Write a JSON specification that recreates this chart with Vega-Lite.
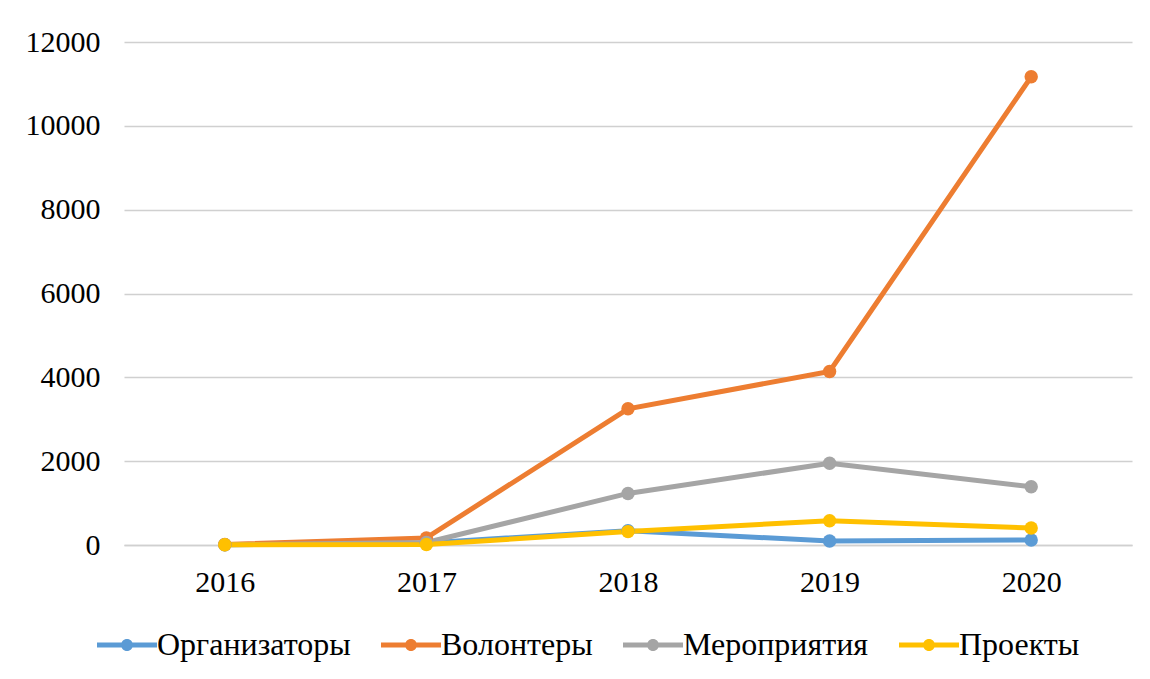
{
  "$schema": "https://vega.github.io/schema/vega-lite/v6.json",
  "width": 1008,
  "height": 503,
  "autosize": {"type": "none"},
  "padding": {"left": 124, "top": 42, "right": 18, "bottom": 134},
  "background": "white",
  "config": {
    "font": "Liberation Serif",
    "view": {"stroke": null},
    "axis": {"labelFont": "Liberation Serif", "labelColor": "#000000", "labelFontSize": 30, "title": null}
  },
  "data": {
    "values": [
      {"year": "2016", "series": "Организаторы", "value": 5},
      {"year": "2017", "series": "Организаторы", "value": 50},
      {"year": "2018", "series": "Организаторы", "value": 340},
      {"year": "2019", "series": "Организаторы", "value": 95},
      {"year": "2020", "series": "Организаторы", "value": 120},
      {"year": "2016", "series": "Волонтеры", "value": 10},
      {"year": "2017", "series": "Волонтеры", "value": 170},
      {"year": "2018", "series": "Волонтеры", "value": 3250},
      {"year": "2019", "series": "Волонтеры", "value": 4140},
      {"year": "2020", "series": "Волонтеры", "value": 11170},
      {"year": "2016", "series": "Мероприятия", "value": 5},
      {"year": "2017", "series": "Мероприятия", "value": 60},
      {"year": "2018", "series": "Мероприятия", "value": 1230},
      {"year": "2019", "series": "Мероприятия", "value": 1950},
      {"year": "2020", "series": "Мероприятия", "value": 1390},
      {"year": "2016", "series": "Проекты", "value": 5},
      {"year": "2017", "series": "Проекты", "value": 10},
      {"year": "2018", "series": "Проекты", "value": 320},
      {"year": "2019", "series": "Проекты", "value": 580},
      {"year": "2020", "series": "Проекты", "value": 405}
    ]
  },
  "encoding": {
    "x": {
      "field": "year", "type": "ordinal",
      "scale": {"type": "point", "padding": 0.5},
      "axis": {"labelAngle": 0, "ticks": false, "domain": true, "domainColor": "#D0D0D0", "domainWidth": 1.5, "labelPadding": 22, "grid": false}
    },
    "y": {
      "field": "value", "type": "quantitative",
      "scale": {"domain": [0, 12000], "nice": false},
      "axis": {"values": [0, 2000, 4000, 6000, 8000, 10000, 12000], "format": "d", "ticks": false, "domain": false, "gridColor": "#D0D0D0", "gridWidth": 1.5, "labelPadding": 24}
    },
    "color": {
      "field": "series", "type": "nominal",
      "sort": ["Организаторы", "Волонтеры", "Мероприятия", "Проекты"],
      "scale": {"domain": ["Организаторы", "Волонтеры", "Мероприятия", "Проекты"], "range": ["#5B9BD5", "#ED7D31", "#A5A5A5", "#FFC000"]},
      "legend": {
        "title": null,
        "orient": "none",
        "direction": "horizontal",
        "legendX": -27,
        "legendY": 573,
        "symbolType": "M-1,-0.08 H1 V0.08 H-1 Z M-0.2,0 A0.2,0.2 0 1,1 0.2,0 A0.2,0.2 0 1,1 -0.2,0 Z",
        "symbolSize": 3600,
        "symbolStrokeWidth": 0,
        "symbolOpacity": 1,
        "labelFont": "Liberation Serif",
        "labelFontSize": 32,
        "labelColor": "#000000",
        "labelOffset": 0,
        "columnPadding": 30,
        "labelLimit": 400
      }
    },
    "order": {"field": "year"}
  },
  "layer": [
    {"mark": {"type": "line", "strokeWidth": 5, "strokeCap": "round"}},
    {"mark": {"type": "point", "filled": true, "size": 180, "opacity": 1}}
  ]
}
